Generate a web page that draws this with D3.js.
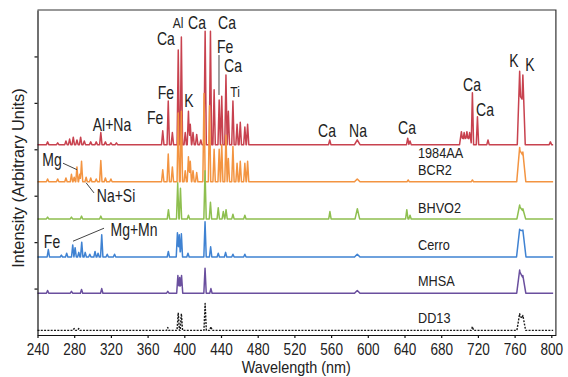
<!DOCTYPE html>
<html>
<head>
<meta charset="utf-8">
<script src="https://cdn.jsdelivr.net/npm/d3@7"></script>
<style>
  body { margin: 0; background: #fff; }
  svg text { font-family: "Liberation Sans", Arial, sans-serif; fill: #222; }
</style>
</head>
<body>
<div id="chart"></div>
<script>
// tick labels
const wavelengthTicks = [240, 280, 320, 360, 400, 440, 480, 520, 560, 600, 640, 680, 720, 760, 800];
const intensityTicks = [50, 100, 150, 200, 250, 300];

// series (top to bottom), offsets are the stacked baselines
const seriesNames = ["1984AA", "BCR2", "BHVO2", "Cerro", "MHSA", "DD13"];
const seriesOffsets = [205, 165, 125, 84, 45, 5];
const seriesColors = ["#c8424f", "#f39441", "#8ebf4f", "#3f82d2", "#6a4f9e", "#1a1a1a"];

// peaks: [wavelength nm, height, half width nm (optional)]
const peaks1984AA = [
  [251, 3], [262, 2], [271, 4], [275, 6], [279, 8], [283, 5], [287, 8], [291, 4], [298, 3], [304, 3],
  [309, 13], [314, 3], [320, 2], [326, 2],
  [376.5, 15], [382.5, 47], [387, 13], [393.4, 102], [396.8, 116], [401, 13], [404.5, 36], [406.5, 22],
  [409.5, 13], [413.5, 11], [418, 5], [422.7, 122], [428.5, 122], [432.5, 59], [438, 48], [440.8, 52],
  [445.4, 75], [448, 36], [453, 47], [457.5, 22], [461, 24], [466, 19], [469, 22],
  [558.5, 5], [588.5, 5, 3], [643.5, 7], [646, 4],
  [702, 14, 2], [705, 13, 2], [708, 14, 2], [711, 13, 2], [714, 56], [719.5, 30], [731, 5],
  [765.5, 79, 2.6], [769, 75, 2.6], [799, 3]
];
const peaksBCR2 = [
  [251, 3], [262, 3], [271, 4], [277, 8], [280, 5], [283, 16], [286, 8], [288, 22], [293, 5], [298, 4],
  [304, 3], [309, 23], [314, 4], [320, 3],
  [376.5, 13], [382.5, 30], [387, 16], [393.4, 74], [396.8, 76], [401, 12], [404.5, 27], [406.5, 22],
  [409.5, 12], [413.5, 10], [421.5, 95], [427.5, 82], [432.5, 35], [438, 35], [440.8, 40], [445.4, 50],
  [448, 25], [453, 38], [457.5, 20], [461, 22], [466, 20], [469, 22],
  [588.5, 3, 3], [644, 2], [714, 2],
  [765.5, 37, 3.2], [769, 32, 3.2]
];
const peaksBHVO2 = [
  [251, 2], [277, 2], [288, 3], [309, 3],
  [382.7, 10], [392.8, 39], [395.8, 33], [404.5, 4], [422.6, 52], [428.5, 18], [437, 12], [442.5, 8],
  [445.5, 10], [453, 5], [466, 4],
  [558.7, 8], [588.6, 11, 2.5], [642.5, 10], [646, 4],
  [765.5, 15, 3], [769, 11, 3]
];
const peaksCerro = [
  [251.8, 8], [266, 2], [271.8, 4], [278.4, 13], [281, 10], [285, 5], [288.2, 16], [292, 5], [297, 3],
  [302.7, 6], [306, 4], [310, 24], [316, 3], [324, 3],
  [382.6, 6], [392.5, 26], [394.5, 24], [396.8, 25], [404, 4], [422.6, 38], [428.7, 11], [437, 4],
  [445, 5], [453, 3], [466, 3],
  [588.5, 3, 3],
  [765.5, 30, 3.4], [769, 29, 3.4]
];
const peaksMHSA = [
  [251, 3], [277, 2], [288, 4], [310, 5],
  [382, 2], [393, 19], [395, 17], [397, 19], [422.6, 27], [429, 5],
  [588.5, 3, 3],
  [765.5, 25, 3.2], [769, 19, 3.2]
];
const peaksDD13 = [
  [280, 2], [285, 2],
  [382, 3], [393.4, 19], [396.8, 18], [422.7, 29], [429, 4],
  [714, 4],
  [765.5, 18, 3], [769, 16, 3]
];
const seriesPeaks = [peaks1984AA, peaksBCR2, peaksBHVO2, peaksCerro, peaksMHSA, peaksDD13];

// element annotations: [text, wavelength, intensity]
const annotations = [
  ["Ca", 380, 319], ["Al", 393.1, 336], ["Ca", 413.8, 336], ["Ca", 446.5, 336],
  ["Fe", 444.4, 310], ["Ca", 453.1, 290], ["Ti", 455.3, 262], ["K", 405.1, 252],
  ["Fe", 380, 261], ["Fe", 368.1, 234], ["Al+Na", 321.2, 227],
  ["Ca", 555.5, 220], ["Na", 589.3, 220], ["Ca", 642.7, 223],
  ["Ca", 713.6, 270], ["Ca", 727.7, 243], ["K", 759.3, 295], ["K", 776.8, 291],
  ["Mg", 255.8, 188.5], ["Na+Si", 325.6, 150], ["Fe", 255.8, 101], ["Mg+Mn", 345.2, 113]
];
// pointer lines: [wl1, v1, wl2, v2]
const pointers = [
  [267.8, 185, 283.1, 178],
  [292.9, 164, 301.6, 153],
  [278.7, 101, 312.5, 115],
  [437.8, 301.5, 437.8, 258.5]
];
// series name label positions
const nameLabelWl = 654.7;
const nameLabelY = [197, 178.5, 137, 98, 59, 19.4];

const W = 568, H = 377;
const narrow = 0.8; // condensed look of the original lettering

const svg = d3.select("#chart").append("svg")
    .attr("width", W)
    .attr("height", H);

const x = d3.scaleLinear().domain([240, 805]).range([37.5, 555.9]);
const y = d3.scaleLinear().domain([0, 350]).range([335, 10]);

// build a spectrum: each peak drawn as a narrow triangle on the baseline
function buildSpectrum(peaks) {
  const hwDefault = 1.3;
  let ws = [240, 802];
  peaks.forEach(p => {
    const hw = p[2] || hwDefault;
    ws.push(p[0] - hw, p[0], p[0] + hw);
  });
  ws = Array.from(new Set(ws)).sort((a, b) => a - b);
  return ws.map(w => [w, d3.max(peaks, p => {
    const hw = p[2] || hwDefault;
    const d = Math.abs(w - p[0]);
    return d < hw ? p[1] * (1 - d / hw) : 0;
  })]);
}

const line = d3.line();

seriesPeaks.forEach((pk, i) => {
  const pts = buildSpectrum(pk).map(d => [x(d[0]), y(d[1] + seriesOffsets[i])]);
  svg.append("path")
    .attr("d", line(pts))
    .attr("fill", "none")
    .attr("stroke", seriesColors[i])
    .attr("stroke-width", i === 5 ? 1.4 : 1.5)
    .attr("stroke-dasharray", i === 5 ? "2,1.3" : null)
    .attr("stroke-linejoin", "round");
});

// axes
const xAxis = d3.axisBottom(x).tickValues(wavelengthTicks).tickSize(3).tickSizeOuter(0).tickPadding(5);
const gx = svg.append("g").attr("transform", "translate(0," + y(0) + ")").call(xAxis);
gx.selectAll("text").style("font-size", "17px").attr("transform", "scale(" + narrow + ",1)");

const yAxis = d3.axisLeft(y).tickValues(intensityTicks).tickSize(3).tickSizeOuter(0).tickFormat("");
svg.append("g").attr("transform", "translate(" + x(240) + ",0)").call(yAxis);

svg.selectAll(".domain, .tick line").attr("stroke", "#111").attr("stroke-width", 1.2);

// frame top and right
svg.append("path")
  .attr("d", "M" + x(240) + "," + y(350) + "H" + x(805) + "V" + y(0))
  .attr("fill", "none").attr("stroke", "#333").attr("stroke-width", 1.2);

// axis titles
svg.append("text")
  .attr("transform", "translate(" + x(522) + ",373) scale(0.9,1)")
  .attr("text-anchor", "middle").style("font-size", "16px")
  .text("Wavelength (nm)");
svg.append("text")
  .attr("transform", "translate(24," + y(169) + ") rotate(-90) scale(0.96,1)")
  .attr("text-anchor", "middle").style("font-size", "17px")
  .text("Intensity (Arbitrary Units)");

// annotations
svg.append("g").selectAll("text").data(annotations).join("text")
  .attr("transform", d => "translate(" + x(d[1]) + "," + y(d[2]) + ") scale(" + narrow + ",1)")
  .attr("dy", "0.36em")
  .attr("text-anchor", "middle")
  .style("font-size", d => (d[0] === "Al" || d[0] === "Ti") ? "15px" : "17.5px")
  .text(d => d[0]);

svg.append("g").selectAll("line").data(pointers).join("line")
  .attr("x1", d => x(d[0])).attr("y1", d => y(d[1]))
  .attr("x2", d => x(d[2])).attr("y2", d => y(d[3]))
  .attr("stroke", "#444").attr("stroke-width", 1);

// series names
svg.append("g").selectAll("text").data(seriesNames).join("text")
  .attr("transform", (d, i) => "translate(" + x(nameLabelWl) + "," + y(nameLabelY[i]) + ") scale(0.82,1)")
  .attr("dy", "0.36em")
  .style("font-size", "15.5px")
  .text(d => d);
</script>
</body>
</html>
